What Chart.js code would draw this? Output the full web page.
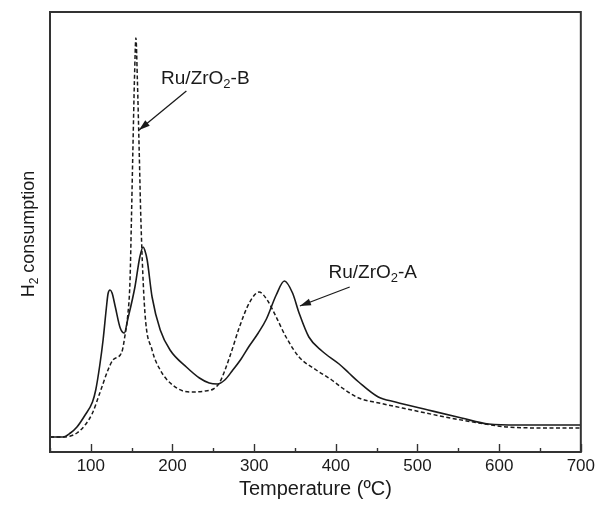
<!DOCTYPE html>
<html>
<head>
<meta charset="utf-8">
<script src="https://cdn.jsdelivr.net/npm/chart.js@4.4.1/dist/chart.umd.min.js"></script>
<style>
  body { margin: 0; background: #fff; }
</style>
</head>
<body>
<canvas id="tpr" width="599" height="506"></canvas>
<script>
// Ru/ZrO2-A (solid) - temperature (ºC) and H2 signal (arb. units)
const tempA = [50, 66, 75, 83, 93, 102, 106, 111, 115, 119, 121, 123.5, 126, 130, 136, 141, 145, 154, 160, 164, 166, 169, 175, 185, 197, 217, 233, 245, 255, 264, 273, 284, 294, 305, 315, 327, 337, 347, 355, 367, 383, 404, 416, 428, 452, 473, 513, 554, 587, 623, 664, 700];
const sigA  = [15, 15, 19, 25, 37, 50, 62, 87, 112, 144, 158, 162, 159, 145, 124, 119, 132, 165, 195, 205, 202, 192, 155, 122, 102, 85, 74, 69, 68, 72, 81, 93, 106, 119, 133, 157, 171, 159, 139, 115, 101, 88, 79, 70, 55, 50, 42, 34, 28, 27, 27, 27];

// Ru/ZrO2-B (dashed)
const tempB = [50, 66, 75, 83, 93, 102, 111, 121, 127, 136, 139, 141.5, 145, 148, 149.7, 151.5, 153.4, 155.2, 157, 159.2, 161.3, 166, 175, 185, 200, 221, 240, 250, 258, 270, 282, 294, 306, 316, 327, 339, 355, 376, 395, 408, 428, 453, 493, 534, 575, 611, 664, 700];
const sigB  = [15, 15, 16, 19, 27, 39, 59, 82, 92, 97, 103, 115, 135, 172, 232, 302, 372, 414, 372, 302, 232, 142, 102, 82, 67, 60, 61, 63, 70, 95, 125, 149, 160, 152, 135, 115, 95, 82, 72, 64, 54, 49, 42, 35, 29, 25, 24, 24];

const xMin = 50, xMax = 700, yMin = 0, yMax = 440;
const xTickStep = 50;

// annotation labels: text (with subscript) at x,y and an arrow from (ax0,ay0) to (ax1,ay1), data units
const labelA = { pre: "Ru/ZrO", sub: "2", post: "-A", x: 391, y: 174, ax0: 417, ay0: 165, ax1: 356, ay1: 146 };
const labelB = { pre: "Ru/ZrO", sub: "2", post: "-B", x: 186, y: 368, ax0: 217, ay0: 361, ax1: 159, ay1: 322 };

const FONT = "'Liberation Sans', Arial, sans-serif";
const INK = "#1a1a1a";

function toXY(xs, ys) {
  return xs.map((x, i) => ({ x: x, y: ys[i] }));
}

function subText(ctx, pre, sub, post, x, y, size) {
  ctx.font = size + "px " + FONT;
  ctx.fillText(pre, x, y);
  let w = ctx.measureText(pre).width;
  ctx.font = Math.round(size * 0.68) + "px " + FONT;
  ctx.fillText(sub, x + w, y + size * 0.22);
  w += ctx.measureText(sub).width;
  ctx.font = size + "px " + FONT;
  ctx.fillText(post, x + w, y);
}

function arrow(ctx, x0, y0, x1, y1) {
  ctx.beginPath();
  ctx.moveTo(x0, y0);
  ctx.lineTo(x1, y1);
  ctx.lineWidth = 1.3;
  ctx.stroke();
  const a = Math.atan2(y1 - y0, x1 - x0);
  const L = 11, W = 3.5;
  ctx.beginPath();
  ctx.moveTo(x1, y1);
  ctx.lineTo(x1 - L * Math.cos(a) + W * Math.sin(a), y1 - L * Math.sin(a) - W * Math.cos(a));
  ctx.lineTo(x1 - L * Math.cos(a) - W * Math.sin(a), y1 - L * Math.sin(a) + W * Math.cos(a));
  ctx.closePath();
  ctx.fill();
}

const decor = {
  id: "decor",
  afterDraw(chart) {
    const { ctx, chartArea: ca, scales: { x, y } } = chart;
    ctx.save();
    ctx.strokeStyle = "#333";
    ctx.fillStyle = INK;

    // frame
    ctx.lineWidth = 2;
    ctx.strokeRect(ca.left, ca.top, ca.right - ca.left, ca.bottom - ca.top);

    // inward ticks on the bottom axis
    ctx.lineWidth = 1.4;
    for (let v = xMin; v <= xMax; v += xTickStep) {
      const px = Math.round(x.getPixelForValue(v)) + 0.5;
      const len = v % 100 === 0 ? 8 : 4;
      ctx.beginPath();
      ctx.moveTo(px, ca.bottom);
      ctx.lineTo(px, ca.bottom - len);
      ctx.stroke();
    }

    // y title with subscript
    ctx.strokeStyle = INK;
    ctx.save();
    ctx.translate(28, (ca.top + ca.bottom) / 2 + 2);
    ctx.rotate(-Math.PI / 2);
    ctx.textBaseline = "alphabetic";
    ctx.font = "18px " + FONT;
    const w1 = ctx.measureText("H").width + ctx.measureText(" consumption").width;
    ctx.font = "12px " + FONT;
    const w2 = ctx.measureText("2").width;
    subText(ctx, "H", "2", " consumption", -(w1 + w2) / 2, 6, 18);
    ctx.restore();

    // annotations
    ctx.textBaseline = "alphabetic";
    [labelA, labelB].forEach(l => {
      subText(ctx, l.pre, l.sub, l.post, x.getPixelForValue(l.x), y.getPixelForValue(l.y), 19);
      arrow(ctx, x.getPixelForValue(l.ax0), y.getPixelForValue(l.ay0),
                 x.getPixelForValue(l.ax1), y.getPixelForValue(l.ay1));
    });
    ctx.restore();
  }
};

new Chart(document.getElementById("tpr"), {
  type: "line",
  data: {
    datasets: [
      {
        label: "Ru/ZrO2-A",
        data: toXY(tempA, sigA),
        borderColor: INK,
        borderWidth: 1.6,
        pointRadius: 0,
        cubicInterpolationMode: "monotone",
        fill: false
      },
      {
        label: "Ru/ZrO2-B",
        data: toXY(tempB, sigB),
        borderColor: INK,
        borderWidth: 1.5,
        borderDash: [4, 2.5],
        pointRadius: 0,
        cubicInterpolationMode: "monotone",
        fill: false
      }
    ]
  },
  options: {
    responsive: false,
    animation: false,
    layout: { padding: { left: 50, top: 12, right: 16, bottom: 0 } },
    plugins: { legend: { display: false }, tooltip: { enabled: false } },
    scales: {
      x: {
        type: "linear",
        min: xMin,
        max: xMax,
        grid: { display: false, drawTicks: false },
        border: { display: false },
        ticks: {
          stepSize: xTickStep,
          autoSkip: false,
          maxRotation: 0,
          padding: 4,
          color: INK,
          font: { family: FONT, size: 17 },
          callback: v => (v % 100 === 0 && v > xMin ? v : "")
        },
        title: {
          display: true,
          text: "Temperature (ºC)",
          color: INK,
          font: { family: FONT, size: 20 },
          padding: { top: 0, bottom: 5 }
        },
        afterFit: s => { s.height = 54; }
      },
      y: {
        display: false,
        min: yMin,
        max: yMax
      }
    }
  },
  plugins: [decor]
});
</script>
</body>
</html>
